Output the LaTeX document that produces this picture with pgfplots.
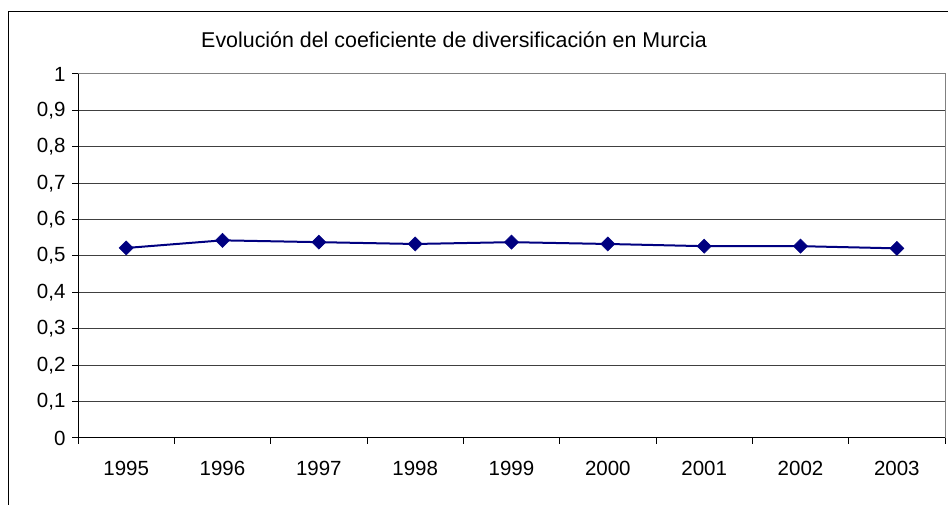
\documentclass[border=0pt]{standalone}
\usepackage{pgfplots}
\pgfplotsset{compat=1.18}
\usepackage{fontspec}
\setmainfont{Liberation Sans}
\definecolor{navyline}{RGB}{0,0,128}
\begin{document}
\begin{tikzpicture}[x=1pt,y=1pt]
\useasboundingbox (0,0) rectangle (948,505);
\draw[black,line width=1pt] (8,-20) -- (8,493) -- (970,493);
\node[font=\fontsize{21.4}{25}\selectfont,anchor=center] at (454,465) {Evolución del coeficiente de diversificación en Murcia};
\begin{axis}[
  at={(78pt,67pt)}, anchor=south west,
  width=867pt, height=364pt, scale only axis,
  xmin=0, xmax=9, ymin=0, ymax=1,
  axis line style={draw=none},
  tick pos=left,
  xtick={0.5,1.5,...,8.5},
  xticklabels={1995,1996,1997,1998,1999,2000,2001,2002,2003},
  minor xtick={0,1,...,9},
  major x tick style={draw=none},
  minor x tick style={black,line width=1pt},
  minor tick length=6pt,
  ytick={0,0.1,...,1.01},
  ytick style={black,line width=1pt},
  major tick length=6pt,
  tick align=outside,
  ymajorgrids,
  major grid style={black!75,line width=1pt},
  /pgf/number format/use comma,
  /pgf/number format/fixed,
  /pgf/number format/precision=1,
  /pgf/number format/assume math mode=true,
  tick label style={font=\fontsize{20.5}{24}\selectfont},
  xticklabel style={yshift=-14pt},
  yticklabel style={xshift=-3pt},
  clip=false,
]
\draw[gray,line width=1pt] (axis cs:0,1) -- (axis cs:9,1) -- (axis cs:9,0);
\draw[black,line width=1pt] (axis cs:0,1) -- (axis cs:0,0) -- (axis cs:9,0);
\addplot[navyline, line width=2pt, mark=square*, mark size=5pt, mark options={rotate=45,fill=navyline,line width=0.5pt}]
coordinates {(0.5,0.522) (1.5,0.543) (2.5,0.538) (3.5,0.533) (4.5,0.538) (5.5,0.533) (6.5,0.527) (7.5,0.527) (8.5,0.521)};
\end{axis}
\end{tikzpicture}
\end{document}
